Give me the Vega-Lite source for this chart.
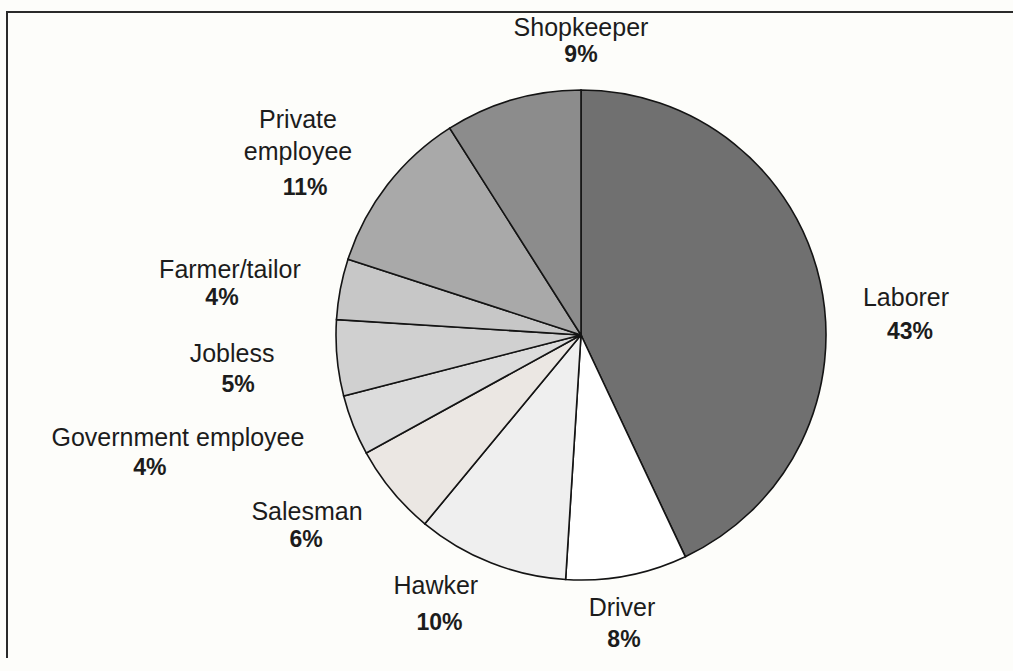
{
  "$schema": "https://vega.github.io/schema/vega-lite/v6.json",
  "width": 1148,
  "height": 646,
  "autosize": {"type": "none"},
  "padding": {"left": 7, "top": 12, "right": 0, "bottom": 13},
  "background": "#fdfdfa",
  "view": {"stroke": "#2a2a2a", "strokeWidth": 2, "strokeDash": [1794, 1148, 646]},
  "config": {
    "text": {"font": "Liberation Sans", "color": "#1c1c1c", "lineBreak": "\n", "lineHeight": 32}
  },
  "data": {
    "values": [
      {"rank": 1, "occupation": "Laborer", "name": "Laborer", "share": 0.43},
      {"rank": 2, "occupation": "Driver", "name": "Driver", "share": 0.08},
      {"rank": 3, "occupation": "Hawker", "name": "Hawker", "share": 0.10},
      {"rank": 4, "occupation": "Salesman", "name": "Salesman", "share": 0.06},
      {"rank": 5, "occupation": "Government employee", "name": "Government employee", "share": 0.04},
      {"rank": 6, "occupation": "Jobless", "name": "Jobless", "share": 0.05},
      {"rank": 7, "occupation": "Farmer/tailor", "name": "Farmer/tailor", "share": 0.04},
      {"rank": 8, "occupation": "Private employee", "name": "Private\nemployee", "share": 0.11},
      {"rank": 9, "occupation": "Shopkeeper", "name": "Shopkeeper", "share": 0.09}
    ]
  },
  "encoding": {
    "theta": {"field": "share", "type": "quantitative", "stack": true},
    "order": {"field": "rank", "type": "quantitative"},
    "detail": {"field": "occupation", "type": "nominal"}
  },
  "layer": [
    {
      "mark": {"type": "arc", "radius": 245, "stroke": "#141414", "strokeWidth": 1.6},
      "encoding": {
        "color": {
          "field": "occupation",
          "type": "nominal",
          "legend": null,
          "scale": {
            "domain": ["Laborer", "Driver", "Hawker", "Salesman", "Government employee", "Jobless", "Farmer/tailor", "Private employee", "Shopkeeper"],
            "range": ["#707070", "#ffffff", "#efefef", "#ebe7e3", "#dcdcdc", "#d0d0d0", "#c7c7c7", "#a9a9a9", "#8c8c8c"]
          }
        }
      }
    },
    {"mark": {"type": "text", "fontSize": 25, "radius": 327.1, "thetaOffset": 0.1065}, "encoding": {"text": {"condition": {"test": "datum.rank === 1", "field": "name", "type": "nominal"}, "value": ""}}},
    {"mark": {"type": "text", "fontSize": 25, "radius": 276.1, "thetaOffset": 0.0394}, "encoding": {"text": {"condition": {"test": "datum.rank === 2", "field": "name", "type": "nominal"}, "value": ""}}},
    {"mark": {"type": "text", "fontSize": 25, "radius": 290.0, "thetaOffset": 0.1473}, "encoding": {"text": {"condition": {"test": "datum.rank === 3", "field": "name", "type": "nominal"}, "value": ""}}},
    {"mark": {"type": "text", "fontSize": 25, "radius": 326.2, "thetaOffset": 0.1176}, "encoding": {"text": {"condition": {"test": "datum.rank === 4", "field": "name", "type": "nominal"}, "value": ""}}},
    {"mark": {"type": "text", "fontSize": 25, "radius": 416.0, "thetaOffset": 0.1267}, "encoding": {"text": {"condition": {"test": "datum.rank === 5", "field": "name", "type": "nominal"}, "value": ""}}},
    {"mark": {"type": "text", "fontSize": 25, "radius": 349.5, "thetaOffset": 0.0398}, "encoding": {"text": {"condition": {"test": "datum.rank === 6", "field": "name", "type": "nominal"}, "value": ""}}},
    {"mark": {"type": "text", "fontSize": 25, "radius": 357.0, "thetaOffset": -0.0054}, "encoding": {"text": {"condition": {"test": "datum.rank === 7", "field": "name", "type": "nominal"}, "value": ""}}},
    {"mark": {"type": "text", "fontSize": 25, "radius": 355.4, "thetaOffset": -0.0101}, "encoding": {"text": {"condition": {"test": "datum.rank === 8", "field": "name", "type": "nominal"}, "value": ""}}},
    {"mark": {"type": "text", "fontSize": 25, "radius": 307.0, "thetaOffset": 0.2827}, "encoding": {"text": {"condition": {"test": "datum.rank === 9", "field": "name", "type": "nominal"}, "value": ""}}},
    {"mark": {"type": "text", "fontSize": 23, "fontWeight": "bold", "radius": 329.0, "thetaOffset": 0.2112}, "encoding": {"text": {"condition": {"test": "datum.rank === 1", "field": "share", "type": "quantitative", "format": ".0%"}, "value": ""}}},
    {"mark": {"type": "text", "fontSize": 23, "fontWeight": "bold", "radius": 308.0, "thetaOffset": 0.0485}, "encoding": {"text": {"condition": {"test": "datum.rank === 2", "field": "share", "type": "quantitative", "format": ".0%"}, "value": ""}}},
    {"mark": {"type": "text", "fontSize": 23, "fontWeight": "bold", "radius": 321.0, "thetaOffset": 0.0796}, "encoding": {"text": {"condition": {"test": "datum.rank === 3", "field": "share", "type": "quantitative", "format": ".0%"}, "value": ""}}},
    {"mark": {"type": "text", "fontSize": 23, "fontWeight": "bold", "radius": 343.0, "thetaOffset": 0.0504}, "encoding": {"text": {"condition": {"test": "datum.rank === 4", "field": "share", "type": "quantitative", "format": ".0%"}, "value": ""}}},
    {"mark": {"type": "text", "fontSize": 23, "fontWeight": "bold", "radius": 451.1, "thetaOffset": 0.0777}, "encoding": {"text": {"condition": {"test": "datum.rank === 5", "field": "share", "type": "quantitative", "format": ".0%"}, "value": ""}}},
    {"mark": {"type": "text", "fontSize": 23, "fontWeight": "bold", "radius": 346.6, "thetaOffset": -0.0504}, "encoding": {"text": {"condition": {"test": "datum.rank === 6", "field": "share", "type": "quantitative", "format": ".0%"}, "value": ""}}},
    {"mark": {"type": "text", "fontSize": 23, "fontWeight": "bold", "radius": 360.9, "thetaOffset": -0.0859}, "encoding": {"text": {"condition": {"test": "datum.rank === 7", "field": "share", "type": "quantitative", "format": ".0%"}, "value": ""}}},
    {"mark": {"type": "text", "fontSize": 23, "fontWeight": "bold", "radius": 312.7, "thetaOffset": -0.1703}, "encoding": {"text": {"condition": {"test": "datum.rank === 8", "field": "share", "type": "quantitative", "format": ".0%"}, "value": ""}}},
    {"mark": {"type": "text", "fontSize": 23, "fontWeight": "bold", "radius": 280.0, "thetaOffset": 0.2827}, "encoding": {"text": {"condition": {"test": "datum.rank === 9", "field": "share", "type": "quantitative", "format": ".0%"}, "value": ""}}}
  ]
}
